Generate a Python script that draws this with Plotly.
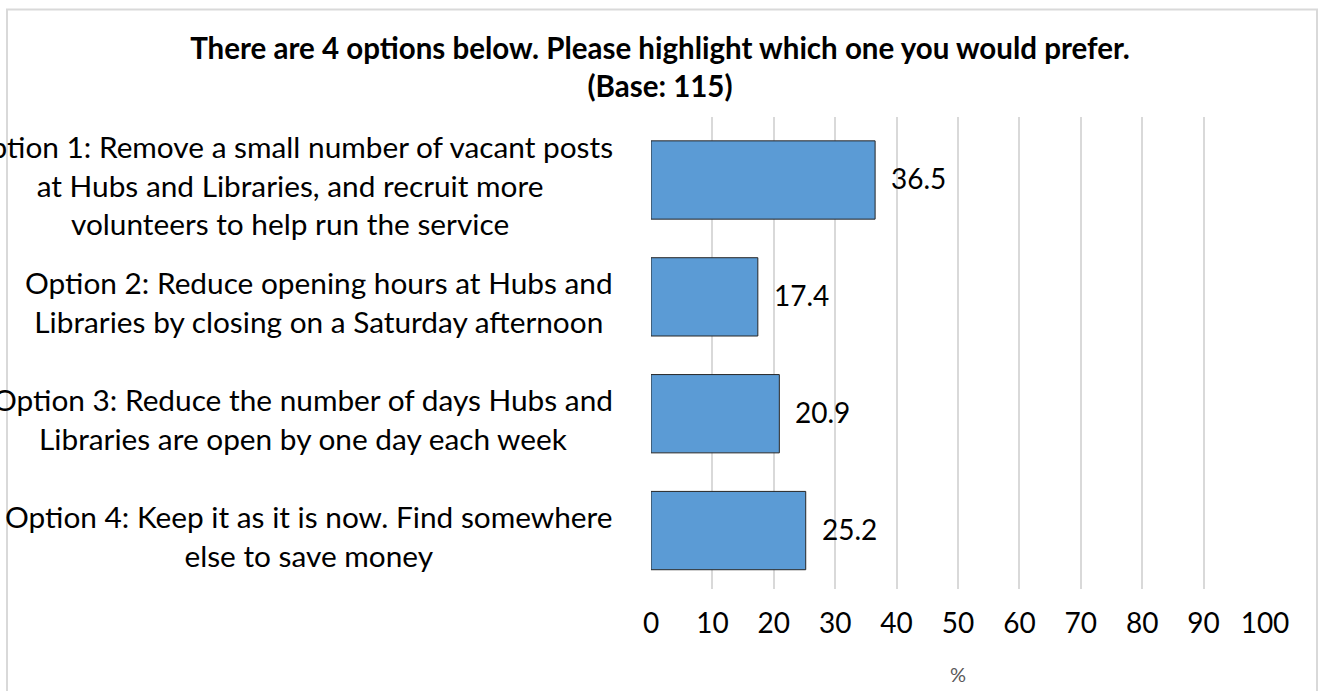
import plotly.graph_objects as go

categories = [
    "Option 1: Remove a small number of vacant posts<br>at Hubs and Libraries, and recruit more<br>volunteers to help run the service",
    "Option 2: Reduce opening hours at Hubs and<br>Libraries by closing on a Saturday afternoon",
    "Option 3: Reduce the number of days Hubs and<br>Libraries are open by one day each week",
    "Option 4: Keep it as it is now. Find somewhere<br>else to save money",
]
values = [36.5, 17.4, 20.9, 25.2]
x_ticks = [0, 10, 20, 30, 40, 50, 60, 70, 80, 90, 100]
title_text = "There are 4 options below. Please highlight which one you would prefer.<br>(Base: 115)"
x_title = "%"

FONT = "Lato"
W, H = 1320, 691
L, R, T, B = 651, 55, 117, 102
pw, ph = W - L - R, H - T - B

fig = go.Figure()
fig.add_trace(go.Bar(
    x=values, y=categories, orientation="h",
    marker=dict(color="#5b9bd5", line=dict(color="#262626", width=1)),
    hoverinfo="skip",
))

annotations = []
for c, v in zip(categories, values):
    annotations.append(dict(
        x=v, y=c, xref="x", yref="y", text=f"{v:.1f}", showarrow=False,
        xanchor="left", yanchor="middle", xshift=14, yshift=2,
        font=dict(family=FONT, size=28, color="#000000"),
    ))
    annotations.append(dict(
        x=0, y=c, xref="paper", yref="y", text=c, showarrow=False,
        xanchor="right", yanchor="middle", align="center", xshift=-36, yshift=-5,
        font=dict(family=FONT, size=29.8, color="#000000"),
    ))

fig.update_layout(
    width=W, height=H,
    margin=dict(l=L, r=R, t=T, b=B, autoexpand=False),
    paper_bgcolor="white", plot_bgcolor="white",
    showlegend=False,
    bargap=0.33,
    title=dict(
        text=title_text, x=0.5, xref="container", xanchor="center",
        y=1 - 59 / H, yref="container", yanchor="top",
        font=dict(family=FONT, size=29.5, color="#000000", weight="bold"),
    ),
    xaxis=dict(
        range=[0, 100], tickvals=x_ticks, showgrid=True, gridcolor="#d9d9d9", gridwidth=1.5,
        zeroline=False, showline=False, ticks="",
        tickfont=dict(family=FONT, size=28, color="#000000"),
        ticklabelstandoff=15,
        title=dict(text=x_title, font=dict(family=FONT, size=20, color="#595959"), standoff=29),
        fixedrange=True,
    ),
    yaxis=dict(
        autorange="reversed", showticklabels=False, showgrid=False, zeroline=False,
        showline=False, ticks="", fixedrange=True,
    ),
    annotations=annotations,
    shapes=[dict(
        type="rect", xref="paper", yref="paper",
        x0=(7 - L) / pw, x1=(1317 - L) / pw,
        y0=(H - B - 720) / ph, y1=(H - B - 9.5) / ph,
        line=dict(color="#d9d9d9", width=2), layer="below",
    )],
)

fig.write_html("out.html", config={"displayModeBar": False},
               post_script="document.body.style.margin='0';")
